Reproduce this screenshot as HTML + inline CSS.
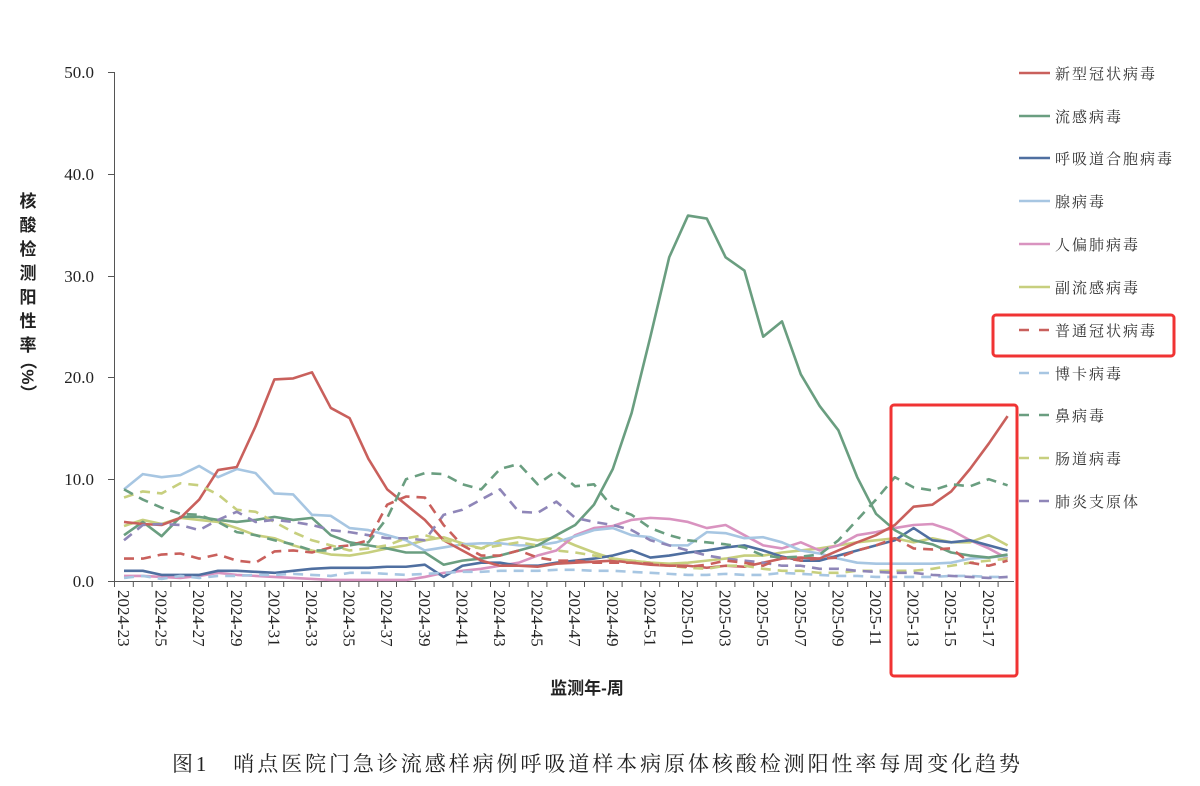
<!DOCTYPE html>
<html><head><meta charset="utf-8"><style>
body{margin:0;background:#fff;width:1200px;height:786px;overflow:hidden}
svg{display:block}
.s{font-family:"Liberation Serif","Noto Serif CJK SC",serif}
.c{font-family:"Liberation Sans","Noto Sans CJK SC",sans-serif}
polyline{fill:none;stroke-width:2.6;vector-effect:non-scaling-stroke;stroke-linejoin:round}
.d{stroke-dasharray:10,7}
</style></head><body>
<svg width="1200" height="786" viewBox="0 0 1200 786">
<g stroke="#555" stroke-width="1">
<line x1="114.5" y1="72" x2="114.5" y2="581"/>
<line x1="114" y1="581.5" x2="1014" y2="581.5"/>
<line x1="108" y1="72.5" x2="114" y2="72.5"/>
<line x1="108" y1="174.5" x2="114" y2="174.5"/>
<line x1="108" y1="276.5" x2="114" y2="276.5"/>
<line x1="108" y1="377.5" x2="114" y2="377.5"/>
<line x1="108" y1="479.5" x2="114" y2="479.5"/>
<line x1="108" y1="581.5" x2="114" y2="581.5"/>
</g>
<g id="xt" stroke="#555" stroke-width="1"></g>
<g class="s" font-size="17" fill="#222" text-anchor="end">
<text x="94" y="78">50.0</text><text x="94" y="180">40.0</text><text x="94" y="282">30.0</text>
<text x="94" y="383">20.0</text><text x="94" y="485">10.0</text><text x="94" y="587">0.0</text>
</g>
<g class="s" font-size="17" fill="#222" id="xl"></g>
<g class="c" font-size="17" fill="#222" font-weight="bold" text-anchor="middle">
<text x="28" y="207">核</text><text x="28" y="231">酸</text><text x="28" y="255">检</text><text x="28" y="279">测</text>
<text x="28" y="303">阳</text><text x="28" y="327">性</text><text x="28" y="351">率</text>
<text x="28" y="383" transform="rotate(90 28 377)">（%）</text>
</g>
<text class="c" x="587" y="694" font-size="17" font-weight="bold" text-anchor="middle" fill="#222">监测年-周</text>
<text class="s" x="172" y="771" font-size="21" textLength="848" lengthAdjust="spacing" fill="#222">图1　哨点医院门急诊流感样病例呼吸道样本病原体核酸检测阳性率每周变化趋势</text>

<g transform="translate(124,581) scale(18.8,-10.18)">
<polyline stroke="#c7cf7e" points="0,5.4 1,6 2,5.6 3,6.2 4,6 5,5.8 6,5.2 7,4.5 8,4.2 9,3.5 10,3 11,2.6 12,2.5 13,2.8 14,3.2 15,3.5 16,4 17,4.3 18,3.7 19,3.2 20,4 21,4.3 22,4 23,4.3 24,3.5 25,2.8 26,2.2 27,2 28,1.8 29,1.7 30,1.8 31,2 32,2.2 33,2.5 34,2.5 35,2.8 36,3 37,3.2 38,3.5 39,3.8 40,4 41,4.2 42,3.8 43,4.2 44,3.8 45,3.8 46,4.5 47,3.5"/>
<polyline stroke="#d993c0" points="0,0.5 1,0.5 2,0.4 3,0.3 4,0.5 5,0.8 6,0.6 7,0.5 8,0.4 9,0.3 10,0.2 11,0.1 12,0.1 13,0.1 14,0.1 15,0.1 16,0.4 17,0.8 18,1 19,1.2 20,1.5 21,1.8 22,2.5 23,3 24,4.5 25,5.2 26,5.4 27,6 28,6.2 29,6.1 30,5.8 31,5.2 32,5.5 33,4.5 34,3.5 35,3.2 36,3.8 37,3 38,3.5 39,4.5 40,4.8 41,5.2 42,5.5 43,5.6 44,5 45,4 46,3.2 47,2.2"/>
<polyline stroke="#a7c6e2" points="0,9 1,10.5 2,10.2 3,10.4 4,11.3 5,10.2 6,11 7,10.6 8,8.6 9,8.5 10,6.5 11,6.4 12,5.2 13,5 14,4.5 15,4 16,3 17,3.3 18,3.6 19,3.7 20,3.7 21,3.5 22,3.5 23,3.8 24,4.4 25,5 26,5.2 27,4.5 28,4.3 29,3.5 30,3.5 31,4.8 32,4.7 33,4.2 34,4.3 35,3.8 36,3 37,2.7 38,2.2 39,1.8 40,1.7 41,1.7 42,1.7 43,1.7 44,1.8 45,2.2 46,2.3 47,2.5"/>
<polyline stroke="#4f6fa0" points="0,1 1,1 2,0.6 3,0.6 4,0.6 5,1 6,1 7,0.9 8,0.8 9,1 10,1.2 11,1.3 12,1.3 13,1.3 14,1.4 15,1.4 16,1.6 17,0.4 18,1.5 19,1.8 20,1.8 21,1.5 22,1.5 23,1.8 24,2 25,2.2 26,2.5 27,3 28,2.3 29,2.5 30,2.8 31,3 32,3.3 33,3.5 34,3 35,2.4 36,2 37,2 38,2.5 39,3 40,3.5 41,4 42,5.2 43,4 44,3.8 45,4 46,3.5 47,3"/>
<polyline stroke="#6a9e80" points="0,4.5 1,5.8 2,4.4 3,6.3 4,6.3 5,6 6,5.8 7,6 8,6.3 9,6 10,6.2 11,4.5 12,3.8 13,3.5 14,3.2 15,2.8 16,2.8 17,1.6 18,2 19,2.2 20,2.5 21,3 22,3.5 23,4.5 24,5.5 25,7.5 26,11 27,16.5 28,24 29,31.8 30,35.9 31,35.6 32,31.8 33,30.5 34,24 35,25.5 36,20.3 37,17.2 38,14.8 39,10.2 40,6.6 41,5 42,4 43,3.6 44,2.8 45,2.5 46,2.3 47,2.6"/>
<polyline stroke="#c9605c" points="0,5.8 1,5.6 2,5.5 3,6.2 4,8 5,10.9 6,11.2 7,15.2 8,19.8 9,19.9 10,20.5 11,17 12,16 13,12 14,9 15,7.5 16,6 17,4 18,3 19,2 20,1.5 21,1.5 22,1.4 23,1.7 24,1.8 25,1.9 26,2 27,1.8 28,1.6 29,1.5 30,1.5 31,1.3 32,1.5 33,1.4 34,1.8 35,2.2 36,2.3 37,2.2 38,3 39,3.8 40,4.5 41,5.5 42,7.3 43,7.5 44,8.8 45,11 46,13.5 47,16.2"/>
<polyline class="d" stroke="#a7c6e2" points="0,0.3 1,0.5 2,0.2 3,0.5 4,0.3 5,0.5 6,0.5 7,0.6 8,0.6 9,0.7 10,0.6 11,0.5 12,0.8 13,0.8 14,0.7 15,0.6 16,0.7 17,0.8 18,0.9 19,0.9 20,1 21,1 22,1 23,1.1 24,1.1 25,1 26,1 27,0.9 28,0.8 29,0.7 30,0.6 31,0.6 32,0.7 33,0.6 34,0.6 35,0.8 36,0.7 37,0.6 38,0.5 39,0.5 40,0.4 41,0.4 42,0.4 43,0.4 44,0.5 45,0.5 46,0.4 47,0.4"/>
<polyline class="d" stroke="#c7cf7e" points="0,8.2 1,8.8 2,8.6 3,9.6 4,9.4 5,8.5 6,7 7,6.8 8,5.8 9,4.8 10,4 11,3.5 12,3 13,3.2 14,3.5 15,4.2 16,4.5 17,4 18,3.5 19,3.2 20,3.5 21,3.8 22,3.5 23,3 24,2.8 25,2.5 26,2.2 27,2 28,1.8 29,1.5 30,1.3 31,1.2 32,1.5 33,1.5 34,1.2 35,1 36,1 37,0.8 38,0.8 39,1 40,1 41,1 42,1 43,1.2 44,1.5 45,1.8 46,2 47,2.2"/>
<polyline class="d" stroke="#8f86b8" points="0,4 1,5.5 2,5.6 3,5.5 4,5 5,6 6,6.8 7,5.8 8,6 9,5.8 10,5.5 11,5 12,4.8 13,4.5 14,4.2 15,4.2 16,4 17,6.5 18,7 19,8 20,9 21,6.8 22,6.7 23,7.8 24,6.2 25,5.8 26,5.5 27,5 28,4 29,3.5 30,3 31,2.5 32,2.2 33,2 34,1.8 35,1.5 36,1.5 37,1.2 38,1.2 39,1 40,0.9 41,0.8 42,0.8 43,0.6 44,0.5 45,0.4 46,0.3 47,0.4"/>
<polyline class="d" stroke="#c9605c" points="0,2.2 1,2.2 2,2.6 3,2.7 4,2.2 5,2.6 6,2 7,1.8 8,2.9 9,3 10,2.8 11,3.3 12,3.5 13,4 14,7.5 15,8.3 16,8.2 17,5.5 18,3.5 19,2.5 20,2.5 21,3 22,2.3 23,2 24,2 25,1.8 26,1.8 27,1.8 28,1.7 29,1.5 30,1.4 31,1.6 32,2 33,1.8 34,1.5 35,2.3 36,2 37,2.2 38,2.3 39,3 40,3.5 41,4.2 42,3.2 43,3.1 44,3.2 45,1.8 46,1.5 47,2"/>
<polyline class="d" stroke="#6a9e80" points="0,9 1,8 2,7.2 3,6.6 4,6.5 5,5.8 6,4.8 7,4.5 8,4 9,3.6 10,3 11,3 12,3.5 13,3.8 14,6.2 15,10 16,10.6 17,10.5 18,9.5 19,9 20,11 21,11.5 22,9.5 23,10.8 24,9.3 25,9.5 26,7.2 27,6.5 28,5.2 29,4.5 30,4 31,3.8 32,3.6 33,3.3 34,2.5 35,2.3 36,2.4 37,2.6 38,4 39,6 40,8 41,10.2 42,9.2 43,8.9 44,9.5 45,9.3 46,10 47,9.4"/>
</g>

<g stroke-width="2.6">
<line x1="1019" y1="73" x2="1050" y2="73" stroke="#c9605c"/>
<line x1="1019" y1="116" x2="1050" y2="116" stroke="#6a9e80"/>
<line x1="1019" y1="158" x2="1050" y2="158" stroke="#4f6fa0"/>
<line x1="1019" y1="201" x2="1050" y2="201" stroke="#a7c6e2"/>
<line x1="1019" y1="244" x2="1050" y2="244" stroke="#d993c0"/>
<line x1="1019" y1="287" x2="1050" y2="287" stroke="#c7cf7e"/>
<line x1="1019" y1="330" x2="1050" y2="330" stroke="#c9605c" stroke-dasharray="10,10"/>
<line x1="1019" y1="373" x2="1050" y2="373" stroke="#a7c6e2" stroke-dasharray="10,10"/>
<line x1="1019" y1="415" x2="1050" y2="415" stroke="#6a9e80" stroke-dasharray="10,10"/>
<line x1="1019" y1="458" x2="1050" y2="458" stroke="#c7cf7e" stroke-dasharray="10,10"/>
<line x1="1019" y1="501" x2="1050" y2="501" stroke="#8f86b8" stroke-dasharray="10,10"/>
</g>
<g class="s" font-size="15" fill="#333" letter-spacing="2">
<text x="1055" y="79">新型冠状病毒</text><text x="1055" y="122">流感病毒</text><text x="1055" y="164">呼吸道合胞病毒</text>
<text x="1055" y="207">腺病毒</text><text x="1055" y="250">人偏肺病毒</text><text x="1055" y="293">副流感病毒</text>
<text x="1055" y="336">普通冠状病毒</text><text x="1055" y="379">博卡病毒</text><text x="1055" y="421">鼻病毒</text>
<text x="1055" y="464">肠道病毒</text><text x="1055" y="507">肺炎支原体</text>
</g>
<rect x="993" y="315" width="181" height="41" rx="3" fill="none" stroke="#f03333" stroke-width="3"/>
<rect x="891" y="405" width="126" height="271" rx="3" fill="none" stroke="#f03333" stroke-width="3"/>
</svg>
<script>
var xt=document.getElementById('xt'),xl=document.getElementById('xl'),ns='http://www.w3.org/2000/svg';
for(var k=0;k<=48;k++){var x=114.5+18.8*k;var l=document.createElementNS(ns,'line');l.setAttribute('x1',x);l.setAttribute('x2',x);l.setAttribute('y1',581);l.setAttribute('y2',587);xt.appendChild(l);}
for(var i=0;i<48;i+=2){var lab=i<30?'2024-'+(23+i):'2025-'+('0'+(i-29)).slice(-2);var x=124+18.8*i-6;var t=document.createElementNS(ns,'text');t.setAttribute('x',x);t.setAttribute('y',590);t.setAttribute('transform','rotate(90 '+x+' 590)');t.textContent=lab;xl.appendChild(t);}
</script>
</body></html>
